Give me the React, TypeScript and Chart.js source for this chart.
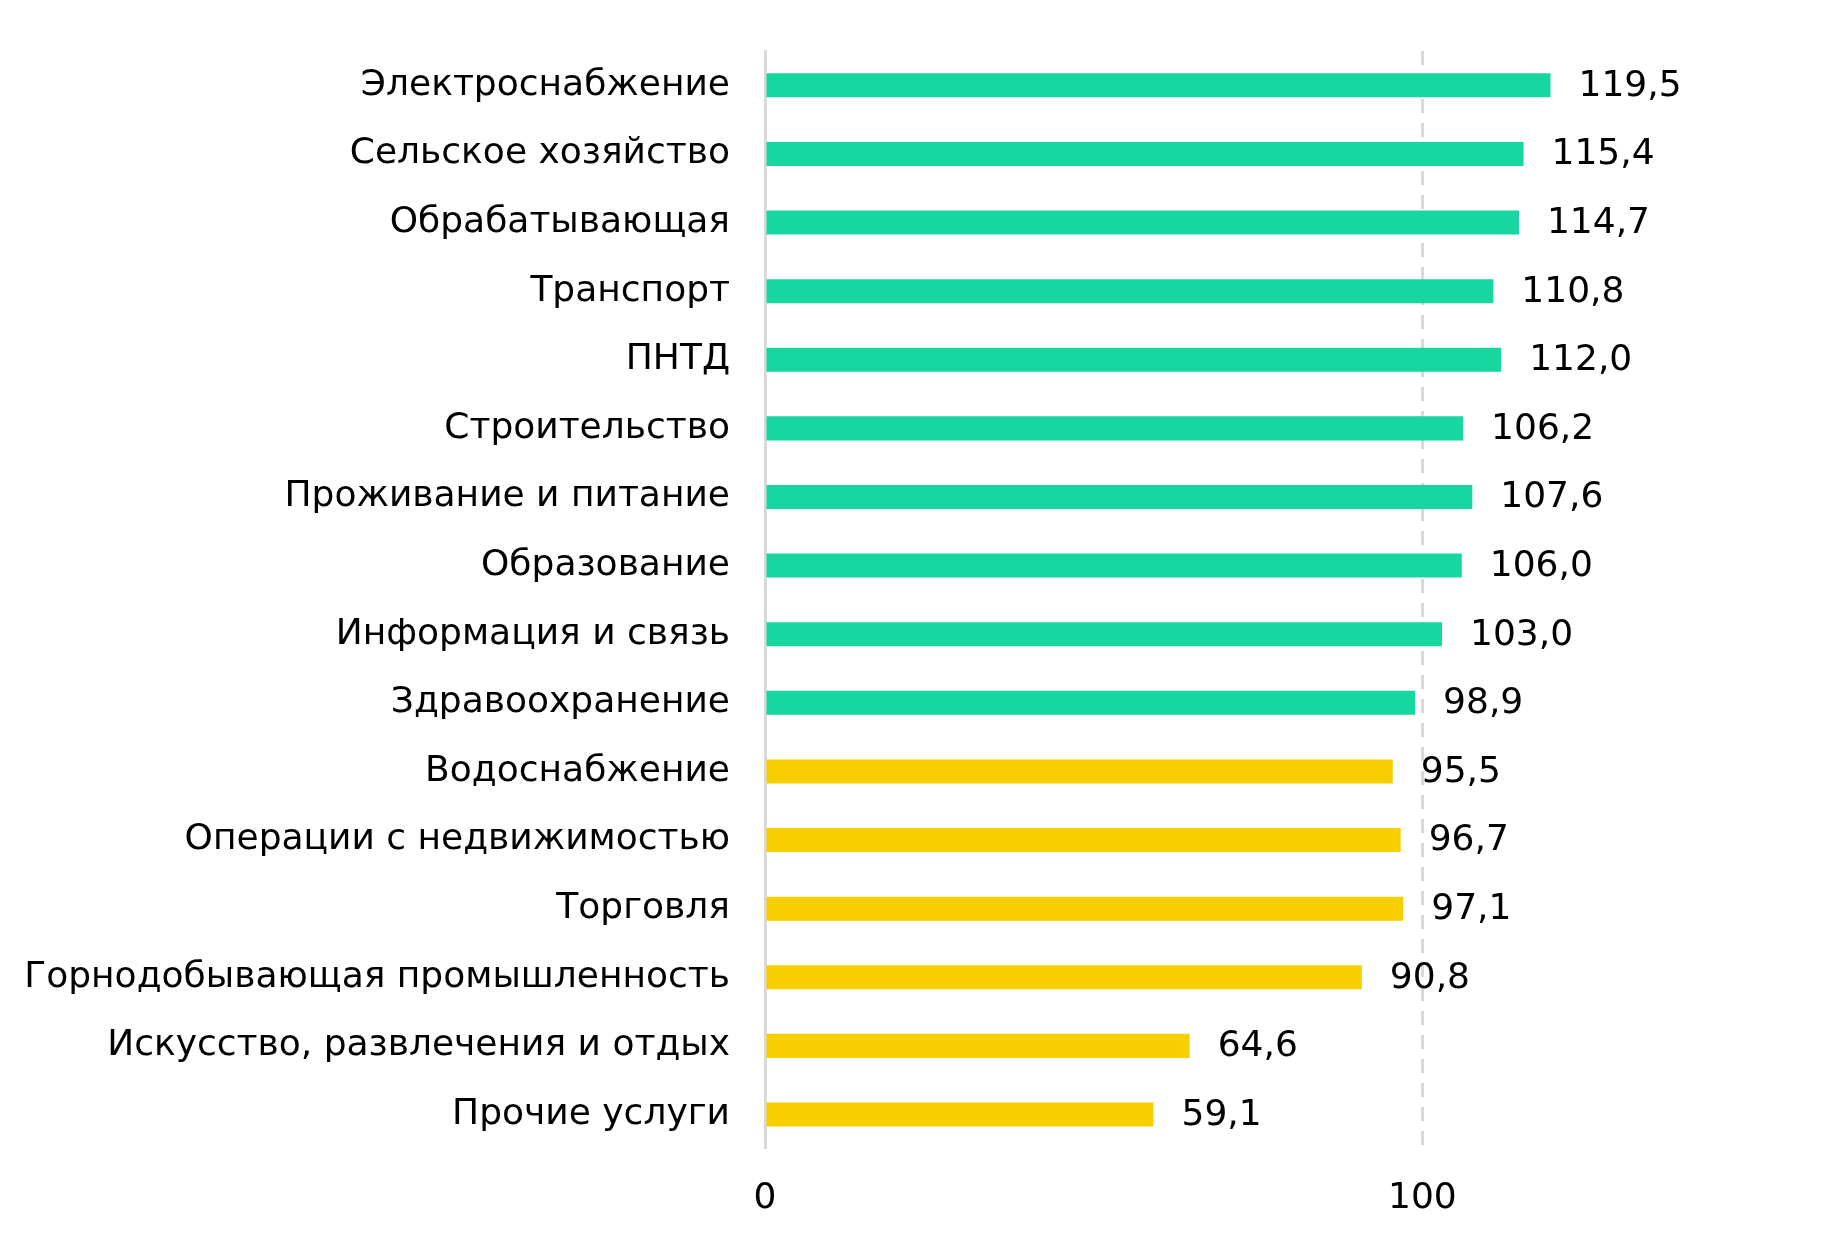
import React, { useEffect, useRef } from 'react';
import { Chart, registerables } from 'chart.js';

Chart.register(...registerables);

// Отрасли (сверху вниз)
const categories = [
  'Электроснабжение',
  'Сельское хозяйство',
  'Обрабатывающая',
  'Транспорт',
  'ПНТД',
  'Строительство',
  'Проживание и питание',
  'Образование',
  'Информация и связь',
  'Здравоохранение',
  'Водоснабжение',
  'Операции с недвижимостью',
  'Торговля',
  'Горнодобывающая промышленность',
  'Искусство, развлечения и отдых',
  'Прочие услуги',
];

const values = [119.5, 115.4, 114.7, 110.8, 112.0, 106.2, 107.6, 106.0, 103.0, 98.9, 95.5, 96.7, 97.1, 90.8, 64.6, 59.1];

// группа для цвета столбца
const groups = ['up', 'up', 'up', 'up', 'up', 'up', 'up', 'up', 'up', 'up', 'down', 'down', 'down', 'down', 'down', 'down'];

const xTicks = [0, 100];

const GREEN = '#17D6A0';
const YELLOW = '#F7CF00';
const GRID = '#d9d9d9';
const FONT = '"DejaVu Sans", Verdana, sans-serif';

const valueLabels = {
  id: 'valueLabels',
  afterDatasetsDraw(chart: any) {
    const ctx = chart.ctx;
    const meta = chart.getDatasetMeta(0);
    ctx.save();
    ctx.font = `36px ${FONT}`;
    ctx.fillStyle = '#000';
    ctx.textAlign = 'left';
    ctx.textBaseline = 'middle';
    meta.data.forEach((bar: any, i: number) => {
      const txt = values[i].toFixed(1).replace('.', ',');
      ctx.fillText(txt, bar.x + 28, bar.y + 1);
    });
    ctx.restore();
  },
};

const App = () => {
  const canvasRef = useRef<HTMLCanvasElement>(null);
  const chartRef = useRef<Chart>();

  useEffect(() => {
    if (!canvasRef.current) return;
    const ctx = canvasRef.current.getContext('2d');
    if (!ctx) return;
    if (chartRef.current) chartRef.current.destroy();

    chartRef.current = new Chart(ctx, {
      type: 'bar',
      data: {
        labels: categories,
        datasets: [
          {
            data: values,
            backgroundColor: groups.map((g) => (g === 'up' ? GREEN : YELLOW)),
            borderWidth: 0,
            barPercentage: 0.35,
            categoryPercentage: 1,
          },
        ],
      },
      options: {
        indexAxis: 'y',
        animation: false,
        responsive: true,
        maintainAspectRatio: false,
        layout: { padding: { top: 51, right: 86, bottom: 0, left: 0 } },
        plugins: {
          legend: { display: false },
          tooltip: { enabled: false },
        },
        scales: {
          x: {
            min: 0,
            max: 150,
            afterBuildTicks: (scale: any) => {
              scale.ticks = xTicks.map((v) => ({ value: v }));
            },
            grid: {
              drawTicks: false,
              lineWidth: 3,
              color: (c: any) => (c.tick && c.tick.value === 100 ? GRID : 'rgba(0,0,0,0)'),
            },
            border: { display: false, dash: [14, 10] },
            ticks: {
              padding: 28,
              color: '#000',
              font: { family: FONT, size: 36 },
            },
          },
          y: {
            afterFit: (scale: any) => {
              scale.width = 765;
              // category labels sit inside their bands, no extra room needed
              scale.paddingTop = 0;
              scale.paddingBottom = 0;
            },
            grid: { display: false, drawTicks: false },
            border: { display: true, color: GRID, width: 3 },
            ticks: {
              padding: 35,
              color: '#000',
              font: { family: FONT, size: 36 },
            },
          },
        },
      },
      plugins: [valueLabels],
    });

    return () => {
      if (chartRef.current) {
        chartRef.current.destroy();
        chartRef.current = undefined;
      }
    };
  }, []);

  return (
    <div style={{ position: 'absolute', left: 0, top: 0, width: 1837, height: 1248, background: '#fff' }}>
      <canvas ref={canvasRef} />
    </div>
  );
};

export default App;
